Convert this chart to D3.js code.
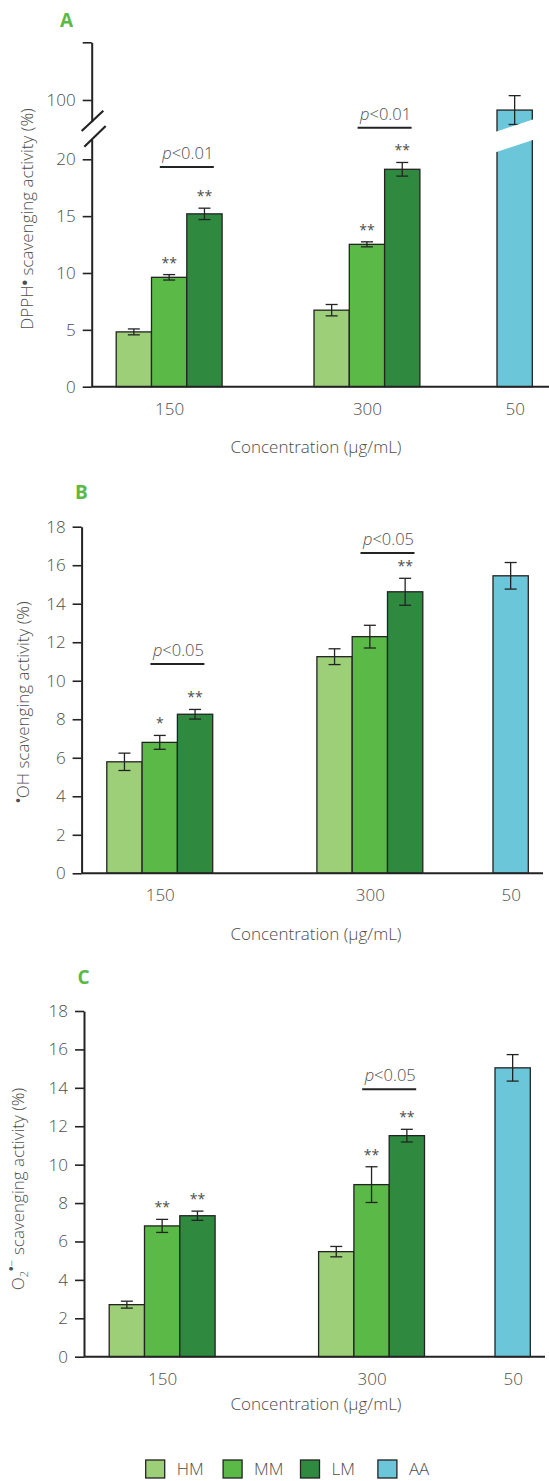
<!DOCTYPE html>
<html>
<head>
<meta charset="utf-8">
<script src="https://cdn.jsdelivr.net/npm/d3@7"></script>
<style>
  body { margin: 0; background: #fff; }
  svg { display: block; font-family: "Open Sans", "DejaVu Sans", sans-serif; }
</style>
</head>
<body>
<svg id="chart" width="549" height="1481"></svg>
<script>
// ---- data ----------------------------------------------------------------
const categories = ["150", "300", "50"];
const seriesNames = ["HM", "MM", "LM", "AA"];
const seriesColors = ["#9dcf79", "#5ab947", "#2f8a40", "#6bc6d9"];

// bar order in every panel: HM, MM, LM at 150; HM, MM, LM at 300; AA at 50
const barSeries = ["HM", "MM", "LM", "HM", "MM", "LM", "AA"];
const barCategory = ["150", "150", "150", "300", "300", "300", "50"];

// A: DPPH radical scavenging (%)
const dpphMean = [4.82, 9.62, 15.2, 6.73, 12.52, 19.12, 96.5];
const dpphSD = [0.26, 0.24, 0.5, 0.5, 0.22, 0.6, 5.0];
const dpphStars = ["", "**", "**", "", "**", "**", ""];
const dpphTicksLow = [0, 5, 10, 15, 20];
const dpphTicksHigh = [100, 120];
const dpphBrackets = [
  { category: "150", text: "0.01", level: 19.33 },
  { category: "300", text: "0.01", level: 22.78 }
];

// B: hydroxyl radical scavenging (%)
const ohMean = [5.79, 6.80, 8.26, 11.25, 12.29, 14.62, 15.45];
const ohSD = [0.45, 0.36, 0.25, 0.41, 0.59, 0.70, 0.69];
const ohStars = ["", "*", "**", "", "", "**", ""];
const ohTicks = [0, 2, 4, 6, 8, 10, 12, 14, 16, 18];
const ohBrackets = [
  { category: "150", text: "0.05", level: 10.87 },
  { category: "300", text: "0.05", level: 16.64 }
];

// C: superoxide anion scavenging (%)
const o2Mean = [2.71, 6.81, 7.34, 5.47, 8.96, 11.51, 15.04];
const o2SD = [0.18, 0.34, 0.24, 0.27, 0.93, 0.33, 0.69];
const o2Stars = ["", "**", "**", "", "**", "**", ""];
const o2Ticks = [0, 2, 4, 6, 8, 10, 12, 14, 16, 18];
const o2Brackets = [
  { category: "300", text: "0.05", level: 13.93 }
];

// ---- styling ---------------------------------------------------------------
const TEXT = "#4d4d4d";
const INK = "#232323";
const LETTER = "#5cb947";
const FS = 17;
const color = d3.scaleOrdinal().domain(seriesNames).range(seriesColors);

const svg = d3.select("#chart");

// panel layouts (pixels)
const panels = [
  {
    letter: "A", letterX: 60, letterY: 27,
    axisX: 91.7, y0: 386.7, yTop: 139.5, domainTop: 21.74,
    upper: { bottomPx: 121.6, topPx: 42.3, domain: [92.5, 120], ticks: dpphTicksHigh, label: [100] },
    groupX: [116.2, 314, 497], barW: 35.3, xRight: 549,
    titleY: 66,
    mean: dpphMean, sd: dpphSD, stars: dpphStars, ticks: dpphTicksLow, brackets: dpphBrackets,
    yTitle: [{ t: "DPPH" }, { t: "•", size: 15, weight: 700, dy: -3 }, { t: " scavenging activity (%)", dy: 3 }],
    yTitleX: 33, yTitleY: 219
  },
  {
    letter: "B", letterX: 75, letterY: 499,
    axisX: 81.6, y0: 873.3, yTop: 526.7, domainTop: 18,
    groupX: [106.8, 316.9, 493], barW: 35.3, xRight: 543,
    titleY: 67,
    mean: ohMean, sd: ohSD, stars: ohStars, ticks: ohTicks, brackets: ohBrackets,
    yTitle: [{ t: "•", size: 12, weight: 700, dy: -6 }, { t: "OH scavenging activity (%)", dy: 6 }],
    yTitleX: 29, yTitleY: 702
  },
  {
    letter: "C", letterX: 77.5, letterY: 984,
    axisX: 84, y0: 1356.7, yTop: 1011, domainTop: 18,
    groupX: [109.2, 318.6, 495], barW: 35.3, xRight: 545,
    titleY: 53,
    mean: o2Mean, sd: o2SD, stars: o2Stars, ticks: o2Ticks, brackets: o2Brackets,
    yTitle: [{ t: "O" }, { t: "2", size: 11, dy: 4 }, { t: "•", size: 12, weight: 700, dy: -12 }, { t: "−", size: 12 }, { t: " scavenging activity (%)", dy: 8 }],
    yTitleX: 24, yTitleY: 1189
  }
];

function drawPanel(p) {
  const g = svg.append("g");

  const y = d3.scaleLinear().domain([0, p.domainTop]).range([p.y0, p.yTop]);
  const yU = p.upper
    ? d3.scaleLinear().domain(p.upper.domain).range([p.upper.bottomPx, p.upper.topPx])
    : null;
  // bars taller than the break are read on the upper scale
  const isTall = m => !!yU && m > p.upper.domain[0];
  const scaleFor = m => isTall(m) ? yU : y;

  const slotIndex = { HM: 0, MM: 1, LM: 2, AA: 0 };
  const catIndex = c => categories.indexOf(c);
  const barLeft = i => p.groupX[catIndex(barCategory[i])] + slotIndex[barSeries[i]] * p.barW;

  // category label positions: centre of the middle bar (or the single bar)
  const catCentres = categories.map((c, k) => c === "50"
    ? p.groupX[k] + p.barW / 2
    : p.groupX[k] + 1.5 * p.barW);
  const xCat = d3.scaleOrdinal().domain(categories).range(catCentres);

  // panel letter
  g.append("text").attr("x", p.letterX).attr("y", p.letterY)
    .attr("font-size", 19).attr("font-weight", 700).attr("fill", LETTER)
    .text(p.letter);

  // bars
  const bars = p.mean.map((m, i) => ({ m, sd: p.sd[i], s: barSeries[i], i, star: p.stars[i], sc: scaleFor(m) }));
  g.selectAll("rect.bar").data(bars).join("rect")
    .attr("class", "bar")
    .attr("x", d => barLeft(d.i))
    .attr("width", p.barW)
    .attr("y", d => d.sc(d.m))
    .attr("height", d => p.y0 - d.sc(d.m))
    .attr("fill", d => color(d.s))
    .attr("stroke", INK).attr("stroke-width", 1.3);

  // error bars
  const cap = 6;
  const eb = g.selectAll("g.err").data(bars).join("g").attr("class", "err")
    .attr("stroke", INK).attr("stroke-width", 1.3);
  const cx = d => barLeft(d.i) + p.barW / 2;
  eb.append("line")
    .attr("x1", cx).attr("x2", cx)
    .attr("y1", d => d.sc(d.m - d.sd)).attr("y2", d => d.sc(d.m + d.sd));
  eb.append("line")
    .attr("x1", d => cx(d) - cap).attr("x2", d => cx(d) + cap)
    .attr("y1", d => d.sc(d.m + d.sd)).attr("y2", d => d.sc(d.m + d.sd));
  eb.append("line")
    .attr("x1", d => cx(d) - cap).attr("x2", d => cx(d) + cap)
    .attr("y1", d => d.sc(d.m - d.sd)).attr("y2", d => d.sc(d.m - d.sd));

  // break gap across the tall reference bar
  bars.filter(d => isTall(d.m)).forEach(d => {
    const x0 = barLeft(d.i) - 2, x1 = barLeft(d.i) + p.barW + 2;
    const c = cx(d);
    const topC = 125.5, gap = 20.5, slope = -0.33;
    const yt = x => topC + slope * (x - c);
    g.append("polygon")
      .attr("points", [[x0, yt(x0)], [x1, yt(x1)], [x1, yt(x1) + gap], [x0, yt(x0) + gap]].join(" "))
      .attr("fill", "#fff");
  });

  // significance stars
  g.selectAll("text.star").data(bars.filter(d => d.star)).join("text")
    .attr("class", "star")
    .attr("x", cx)
    .attr("y", d => d.sc(d.m + d.sd) - 7)
    .attr("text-anchor", "middle").attr("font-size", 14).attr("fill", TEXT)
    .text(d => d.star);

  // p-value brackets (spanning MM / LM)
  p.brackets.forEach(b => {
    const k = catIndex(b.category);
    const mid = p.groupX[k] + 2 * p.barW;
    const ly = y(b.level);
    g.append("line").attr("x1", mid - 27).attr("x2", mid + 27)
      .attr("y1", ly).attr("y2", ly)
      .attr("stroke", INK).attr("stroke-width", 2);
    const t = g.append("text").attr("x", mid + 1).attr("y", ly - 8)
      .attr("text-anchor", "middle").attr("font-size", 16.5).attr("font-weight", 300).attr("fill", TEXT);
    t.append("tspan").attr("font-style", "italic").text("p");
    t.append("tspan").text("<" + b.text);
  });

  // y axis
  const styleAxis = sel => {
    sel.select(".domain").attr("stroke", INK).attr("stroke-width", 2);
    sel.selectAll(".tick line").attr("stroke", INK).attr("stroke-width", 1.6);
    sel.selectAll(".tick text").attr("fill", TEXT).attr("font-size", FS).attr("font-weight", 300)
      .attr("font-family", "\"Open Sans\", sans-serif");
  };
  const axL = g.append("g").attr("transform", `translate(${p.axisX},0)`)
    .call(d3.axisLeft(y).tickValues(p.ticks).tickSize(9).tickSizeOuter(0).tickPadding(7).tickFormat(d3.format("d")));
  styleAxis(axL);
  if (yU) {
    const axU = g.append("g").attr("transform", `translate(${p.axisX},0)`)
      .call(d3.axisLeft(yU).tickValues(p.upper.ticks).tickSize(9).tickSizeOuter(0).tickPadding(7)
        .tickFormat(v => p.upper.label.includes(v) ? d3.format("d")(v) : ""));
    styleAxis(axU);
    // break marks on the axis
    [[81.7, 131, 103.3, 110.7], [84.3, 146.7, 105.7, 126]].forEach(s => {
      g.append("line").attr("x1", s[0]).attr("y1", s[1]).attr("x2", s[2]).attr("y2", s[3])
        .attr("stroke", INK).attr("stroke-width", 2.2);
    });
  }

  // x axis: baseline + category labels
  g.append("line").attr("x1", p.axisX).attr("x2", p.xRight)
    .attr("y1", p.y0).attr("y2", p.y0).attr("stroke", INK).attr("stroke-width", 2);
  const axB = g.append("g").attr("transform", `translate(0,${p.y0})`)
    .call(d3.axisBottom(xCat).tickSize(0).tickPadding(16));
  axB.select(".domain").remove();
  axB.selectAll(".tick text").attr("fill", TEXT).attr("font-size", FS).attr("font-weight", 300)
    .attr("font-family", "\"Open Sans\", sans-serif");

  // axis titles
  g.append("text").attr("x", 316).attr("y", p.y0 + p.titleY)
    .attr("text-anchor", "middle").attr("font-size", FS).attr("font-weight", 300).attr("fill", TEXT)
    .text("Concentration (μg/mL)");

  const yt = g.append("text")
    .attr("transform", `translate(${p.yTitleX},${p.yTitleY}) rotate(-90)`)
    .attr("text-anchor", "middle").attr("font-size", FS).attr("font-weight", 300).attr("fill", TEXT);
  p.yTitle.forEach(part => {
    const ts = yt.append("tspan").text(part.t);
    if (part.size) ts.attr("font-size", part.size);
    if (part.weight) ts.attr("font-weight", part.weight);
    if (part.dy) ts.attr("dy", part.dy);
  });
}

panels.forEach(drawPanel);

// legend
const legend = svg.append("g").attr("transform", "translate(145.7,1460)");
const item = legend.selectAll("g").data(seriesNames).join("g")
  .attr("transform", (d, i) => `translate(${i * 77.4},0)`);
item.append("rect").attr("width", 19).attr("height", 18)
  .attr("fill", d => color(d)).attr("stroke", INK).attr("stroke-width", 1.3);
item.append("text").attr("x", 31).attr("y", 15)
  .attr("font-size", FS).attr("font-weight", 300).attr("fill", TEXT)
  .text(d => d);
</script>
</body>
</html>
